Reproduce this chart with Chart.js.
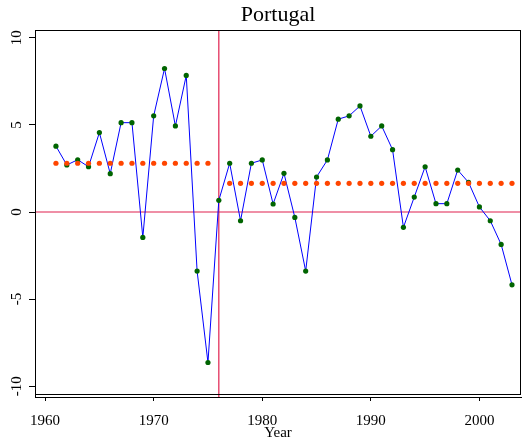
<!DOCTYPE html>
<html>
<head>
<meta charset="utf-8">
<script src="https://cdn.jsdelivr.net/npm/chart.js@4/dist/chart.umd.min.js"></script>
<style>
  html, body { margin: 0; padding: 0; background: #fff; }
  canvas { display: block; }
</style>
</head>
<body>
<canvas id="chart" width="522" height="445"></canvas>
<script>
// Datos (Portugal, 1961-2003)
const years = [1961, 1962, 1963, 1964, 1965, 1966, 1967, 1968, 1969, 1970,
               1971, 1972, 1973, 1974, 1975, 1976, 1977, 1978, 1979, 1980,
               1981, 1982, 1983, 1984, 1985, 1986, 1987, 1988, 1989, 1990,
               1991, 1992, 1993, 1994, 1995, 1996, 1997, 1998, 1999, 2000,
               2001, 2002, 2003];
const growth = [3.78, 2.7, 3.0, 2.6, 4.56, 2.2, 5.13, 5.13, -1.46, 5.52,
                8.24, 4.94, 7.84, -3.39, -8.64, 0.67, 2.8, -0.5, 2.8, 2.99,
                0.46, 2.22, -0.31, -3.39, 2.01, 2.99, 5.33, 5.52, 6.09, 4.35,
                4.94, 3.58, -0.88, 0.86, 2.6, 0.48, 0.48, 2.41, 1.7, 0.29,
                -0.5, -1.86, -4.18];

// Medias de cada periodo (puntos naranjas)
const yearsBefore = [1961, 1962, 1963, 1964, 1965, 1966, 1967, 1968, 1969, 1970,
                     1971, 1972, 1973, 1974, 1975];
const meanBefore = [2.8, 2.8, 2.8, 2.8, 2.8, 2.8, 2.8, 2.8, 2.8, 2.8,
                    2.8, 2.8, 2.8, 2.8, 2.8];
const yearsAfter = [1977, 1978, 1979, 1980, 1981, 1982, 1983, 1984, 1985, 1986,
                    1987, 1988, 1989, 1990, 1991, 1992, 1993, 1994, 1995, 1996,
                    1997, 1998, 1999, 2000, 2001, 2002, 2003];
const meanAfter = [1.65, 1.65, 1.65, 1.65, 1.65, 1.65, 1.65, 1.65, 1.65, 1.65,
                   1.65, 1.65, 1.65, 1.65, 1.65, 1.65, 1.65, 1.65, 1.65, 1.65,
                   1.65, 1.65, 1.65, 1.65, 1.65, 1.65, 1.65];

const breakYear = 1976;
const xTicks = [1960, 1970, 1980, 1990, 2000];
const yTicks = [-10, -5, 0, 5, 10];
const xRange = [1959.07, 2003.83];
const yRange = [-10.62, 10.45];

const serif = '"Liberation Serif", "Times New Roman", serif';

const toPoints = (xs, ys) => xs.map((x, i) => ({ x: x, y: ys[i] }));

// Título y marco del área de dibujo
const framePlugin = {
    id: 'frame',
    afterDraw(chart) {
        const ctx = chart.ctx;
        const a = chart.chartArea;
        ctx.save();
        ctx.strokeStyle = '#000';
        ctx.lineWidth = 1;
        ctx.strokeRect(a.left + 0.5, a.top + 0.5, a.right - a.left - 1, 394 - a.top);
        ctx.fillStyle = '#000';
        ctx.font = '22px ' + serif;
        ctx.textAlign = 'center';
        ctx.textBaseline = 'alphabetic';
        ctx.fillText('Portugal', (a.left + a.right) / 2, 21);
        ctx.restore();
    }
};

const ctx = document.getElementById('chart').getContext('2d');
const chart = new Chart(ctx, {
    type: 'line',
    data: {
        datasets: [
            {
                data: toPoints(yearsBefore, meanBefore),
                showLine: false,
                pointRadius: 2.6,
                pointBackgroundColor: '#ff4500',
                pointBorderColor: '#ff4500',
                pointBorderWidth: 0,
                order: 0
            },
            {
                data: toPoints(yearsAfter, meanAfter),
                showLine: false,
                pointRadius: 2.6,
                pointBackgroundColor: '#ff4500',
                pointBorderColor: '#ff4500',
                pointBorderWidth: 0,
                order: 0
            },
            {
                data: toPoints(years, growth),
                borderColor: '#0000ff',
                borderWidth: 1,
                tension: 0,
                pointRadius: 2.6,
                pointBackgroundColor: '#006400',
                pointBorderColor: '#006400',
                pointBorderWidth: 0,
                order: 1
            },
            {
                data: [{ x: breakYear, y: yRange[0] }, { x: breakYear, y: yRange[1] }],
                borderColor: '#e0204e',
                borderWidth: 1.2,
                pointRadius: 0,
                order: 2
            },
            {
                data: [{ x: xRange[0], y: 0 }, { x: xRange[1], y: 0 }],
                borderColor: '#e0204e',
                borderWidth: 1.2,
                pointRadius: 0,
                order: 2
            }
        ]
    },
    options: {
        responsive: false,
        animation: false,
        layout: { autoPadding: false, padding: { top: 30, right: 1, left: 0, bottom: 0 } },
        plugins: {
            legend: { display: false },
            tooltip: { enabled: false },
            title: { display: false }
        },
        scales: {
            x: {
                type: 'linear',
                min: xRange[0],
                max: xRange[1],
                afterBuildTicks: s => { s.ticks = xTicks.map(v => ({ value: v })); },
                afterFit: s => { s.height = 48; s.paddingRight = 0; s.paddingLeft = 0; },
                border: { color: '#000', width: 1 },
                grid: { drawOnChartArea: false, color: '#000', tickLength: 4 },
                ticks: {
                    color: '#000',
                    font: { family: serif, size: 15 },
                    padding: 11,
                    maxRotation: 0,
                    callback: v => String(v)
                },
                title: {
                    display: true,
                    text: 'Year',
                    color: '#000',
                    font: { family: serif, size: 15 },
                    padding: { top: 0, bottom: 3 }
                }
            },
            y: {
                min: yRange[0],
                max: yRange[1],
                afterBuildTicks: s => { s.ticks = yTicks.map(v => ({ value: v })); },
                afterFit: s => { s.width = 35; s.paddingTop = 0; s.paddingBottom = 0; },
                border: { color: '#000', width: 1 },
                grid: { drawOnChartArea: false, color: '#000', tickLength: 6 },
                ticks: {
                    color: '#000',
                    font: { family: serif, size: 15 },
                    minRotation: 90,
                    maxRotation: 90,
                    crossAlign: 'center',
                    padding: 2
                }
            }
        }
    },
    plugins: [framePlugin]
});
</script>
</body>
</html>
